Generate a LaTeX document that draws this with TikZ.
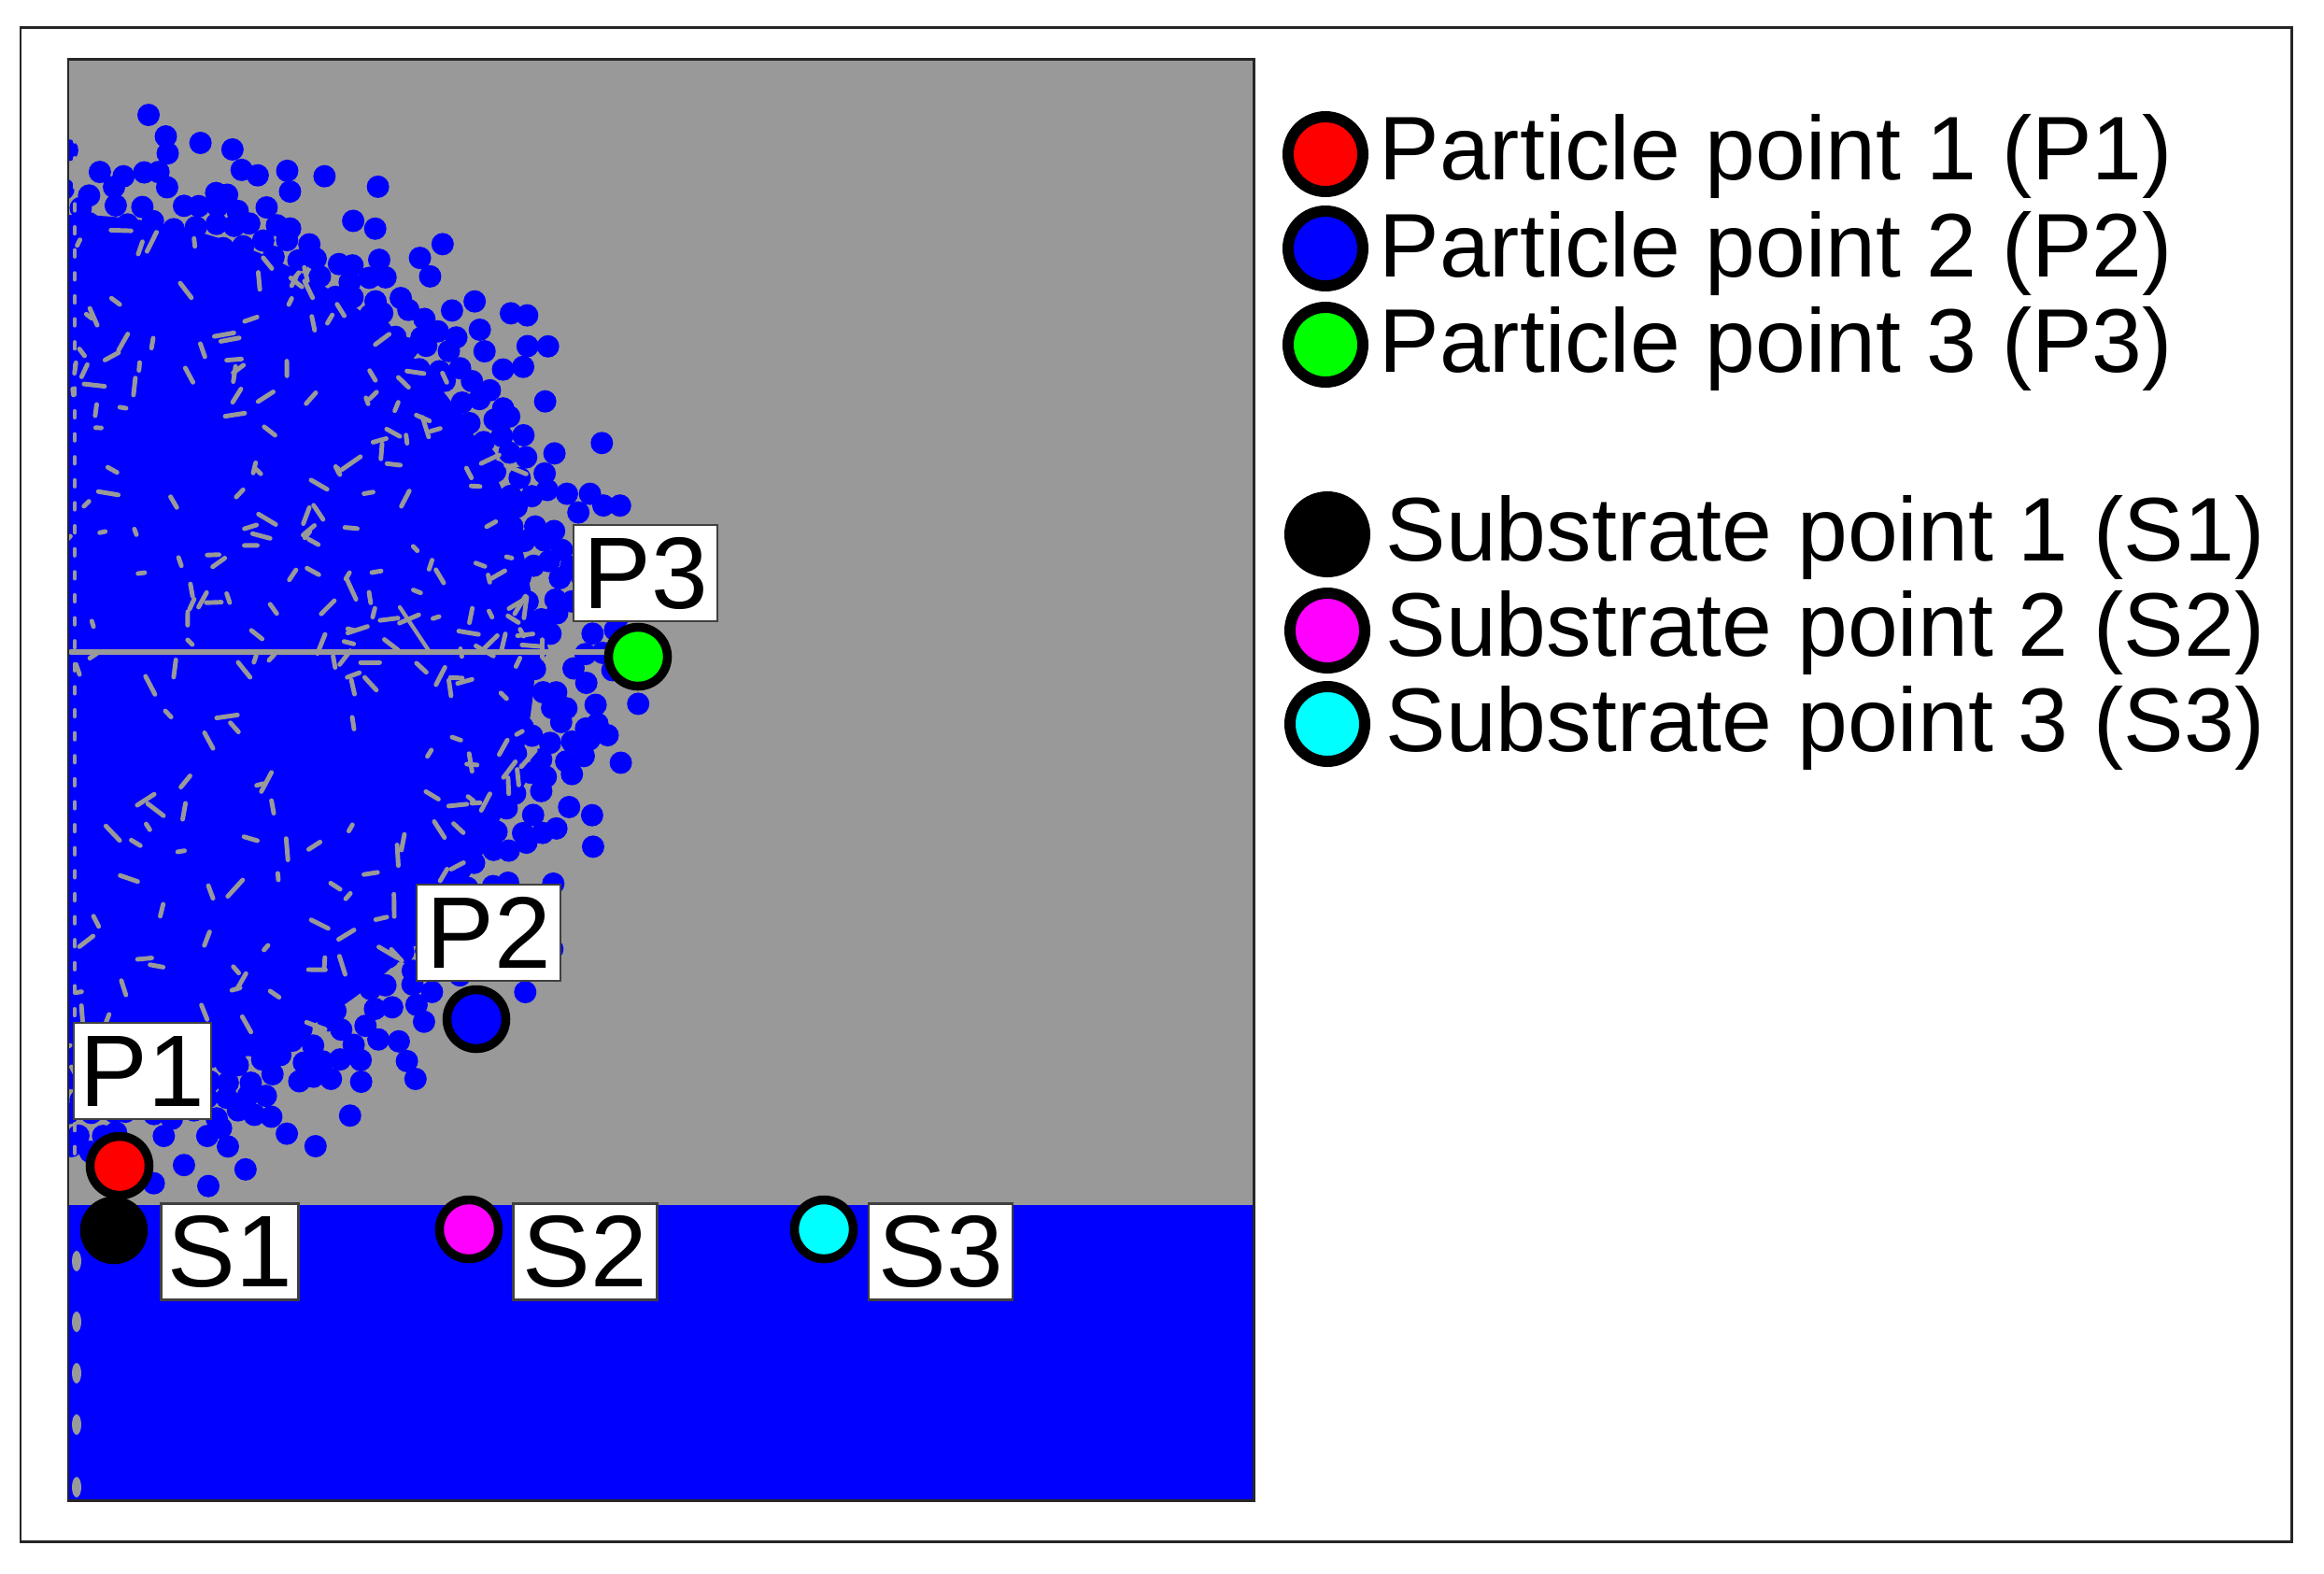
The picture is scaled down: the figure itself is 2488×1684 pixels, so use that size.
\documentclass[tikz,border=0pt]{standalone}
\usepackage{fontspec}
\setmainfont{Liberation Sans}
\definecolor{pblue}{RGB}{0,0,255}
\definecolor{bggray}{RGB}{153,153,153}
\definecolor{pred}{RGB}{255,0,0}
\definecolor{pgreen}{RGB}{0,255,0}
\definecolor{pmag}{RGB}{255,0,255}
\definecolor{pcyan}{RGB}{0,255,255}
\begin{document}
\begin{tikzpicture}[x=0.01cm,y=-0.01cm,
  marker/.style={circle,draw=black,line width=2.7pt,minimum size=0.63cm,inner sep=0pt},
  lmark/.style={circle,draw=black,line width=3.4pt,minimum size=0.80cm,inner sep=0pt},
  lbl/.style={draw=black!75,line width=0.7pt,fill=white,minimum width=1.54cm,minimum height=1.03cm,inner sep=0pt,font=\fontsize{31}{31}\selectfont},
  ltext/.style={anchor=base west,inner sep=0pt,font=\fontsize{27.5}{27.5}\selectfont},
  crack/.style={draw=bggray,line cap=round}]
\useasboundingbox (0,0) rectangle (2488,1684);
\fill[white] (0,0) rectangle (2488,1684);
% outer frame
\draw[line width=0.85pt,black!85] (22,29) rectangle (2453,1650);
% plot area
\fill[bggray] (73,63) rectangle (1342,1606);
\begin{scope}
\clip (73,63) rectangle (1342,1290);
\pgfmathsetseed{7}
% solid core of the particle
\fill[pblue] (73,698) ellipse[x radius=500,y radius=468];
% scattered particles on the periphery
\foreach \k in {-32,...,31}{
  \foreach \j in {0,...,30}{
    \pgfmathsetmacro{\qbx}{\j*22+mod(abs(\k),2)*11}
    \pgfmathsetmacro{\qby}{\k*19}
    \pgfmathsetmacro{\qr}{sqrt((\qbx/560)^2+(\qby/525)^2)}
    \ifdim\qr pt>0.80pt
      \pgfmathsetmacro{\qa}{2+4*\qr}
      \pgfmathsetmacro{\qx}{\qbx+\qa*(2*rnd-1)}
      \pgfmathsetmacro{\qy}{\qby+\qa*(2*rnd-1)}
      \pgfmathsetmacro{\qt}{min(0.97,(1.14-\qr)*4)}
      \pgfmathsetmacro{\qkeep}{rnd<\qt?1:0}
      \ifdim\qkeep pt>0.5pt
        \fill[pblue] (73+\qx,698+\qy) circle[radius=12];
      \fi
    \fi
  }
}
% gaps inside the particle
\foreach \i in {1,...,480}{
  \pgfmathsetmacro{\qth}{-90+180*rnd}
  \pgfmathsetmacro{\qrr}{0.92*sqrt(rnd)}
  \pgfmathsetmacro{\qx}{\qrr*560*cos(\qth)}
  \pgfmathsetmacro{\qy}{\qrr*525*sin(\qth)}
  \pgfmathsetmacro{\qp}{(0.15+0.85*\qrr)*(\qy<0 ? 1 : 0.6)}
  \pgfmathsetmacro{\qkeep}{rnd<\qp?1:0}
  \pgfmathsetmacro{\qang}{180*rnd}
  \pgfmathsetmacro{\qlen}{6+18*rnd}
  \ifdim\qkeep pt>0.5pt
    \draw[crack,line width=1.4pt] (73+\qx,698+\qy) -- ++(\qang:\qlen);
  \fi
}
% cracks
\draw[crack,line width=1.8pt] (76,698) -- (650,698);
\draw[crack,line width=1.2pt] (460,698) -- (440,668) -- (428,650);
\draw[crack,line width=1.2pt,dash pattern=on 2pt off 5pt] (80,120) -- (80,1285);
\end{scope}
% substrate
\fill[pblue] (73,1290) rectangle (1342,1606);
\foreach \yy in {1350,1415,1470,1525,1592}{
  \fill[bggray] (82,\yy) ellipse[x radius=5,y radius=11];
}
\draw[line width=0.85pt,black!85] (73,63) rectangle (1342,1606);
% markers
\node[marker,fill=pred] (p1) at (128,1248) {};
\node[marker,fill=pblue] (p2) at (510,1091) {};
\node[marker,fill=pgreen] (p3) at (683,703) {};
\node[marker,fill=black] (s1) at (122,1317) {};
\node[marker,fill=pmag] (s2) at (502,1316) {};
\node[marker,fill=pcyan] (s3) at (882,1316) {};
% labels
\node[lbl,minimum width=1.47cm] (lp1) at (152.5,1146.5) {P1};
\node[lbl] (lp2) at (523,998.5) {P2};
\node[lbl] (lp3) at (691,613.5) {P3};
\node[lbl,minimum width=1.47cm] (ls1) at (246,1340) {S1};
\node[lbl] (ls2) at (626.5,1340) {S2};
\node[lbl] (ls3) at (1007,1340) {S3};
% legend
\node[lmark,fill=pred] (g1) at (1419,165) {};
\node[lmark,fill=pblue] (g2) at (1419,266) {};
\node[lmark,fill=pgreen] (g3) at (1419,369) {};
\node[lmark,fill=black] (g4) at (1421,572) {};
\node[lmark,fill=pmag] (g5) at (1421,675) {};
\node[lmark,fill=pcyan] (g6) at (1421,775) {};
\node[ltext] (t1) at (1476,192) {Particle point 1 (P1)};
\node[ltext] (t2) at (1476,296) {Particle point 2 (P2)};
\node[ltext] (t3) at (1476,398) {Particle point 3 (P3)};
\node[ltext] (t4) at (1483,600) {Substrate point 1 (S1)};
\node[ltext] (t5) at (1483,702) {Substrate point 2 (S2)};
\node[ltext] (t6) at (1483,804) {Substrate point 3 (S3)};
\end{tikzpicture}
\end{document}
